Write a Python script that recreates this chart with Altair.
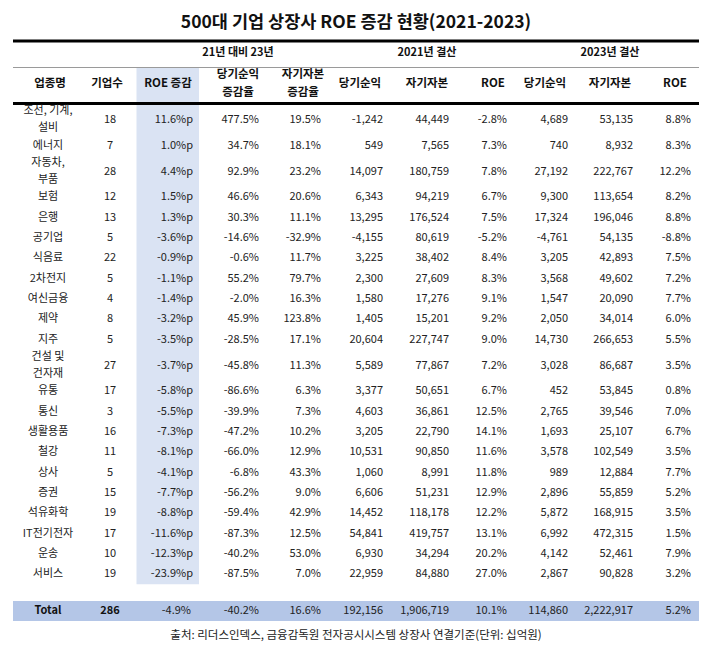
import altair as alt
import pandas as pd

# ---------------- data ----------------
title_text = "500대 기업 상장사 ROE 증감 현황(2021-2023)"
source_text = "출처: 리더스인덱스, 금융감독원 전자공시시스템 상장사 연결기준(단위: 십억원)"

group_headers = ["21년 대비 23년", "2021년 결산", "2023년 결산"]
column_headers = ["업종명", "기업수", "ROE 증감", "당기순익\n증감율", "자기자본\n증감율",
                  "당기순익", "자기자본", "ROE", "당기순익", "자기자본", "ROE"]

industries = ["조선, 기계,\n설비", "에너지", "자동차,\n부품", "보험", "은행", "공기업", "식음료",
              "2차전지", "여신금융", "제약", "지주", "건설 및\n건자재", "유통", "통신", "생활용품",
              "철강", "상사", "증권", "석유화학", "IT전기전자", "운송", "서비스"]
firm_counts = [18, 7, 28, 12, 13, 5, 22, 5, 4, 8, 5, 27, 17, 3, 16, 11, 5, 15, 19, 17, 10, 19]
roe_change = [11.6, 1.0, 4.4, 1.5, 1.3, -3.6, -0.9, -1.1, -1.4, -3.2, -3.5, -3.7, -5.8, -5.5,
              -7.3, -8.1, -4.1, -7.7, -8.8, -11.6, -12.3, -23.9]
ni_growth = [477.5, 34.7, 92.9, 46.6, 30.3, -14.6, -0.6, 55.2, -2.0, 45.9, -28.5, -45.8, -86.6,
             -39.9, -47.2, -66.0, -6.8, -56.2, -59.4, -87.3, -40.2, -87.5]
eq_growth = [19.5, 18.1, 23.2, 20.6, 11.1, -32.9, 11.7, 79.7, 16.3, 123.8, 17.1, 11.3, 6.3, 7.3,
             10.2, 12.9, 43.3, 9.0, 42.9, 12.5, 53.0, 7.0]
ni_2021 = [-1242, 549, 14097, 6343, 13295, -4155, 3225, 2300, 1580, 1405, 20604, 5589, 3377,
           4603, 3205, 10531, 1060, 6606, 14452, 54841, 6930, 22959]
eq_2021 = [44449, 7565, 180759, 94219, 176524, 80619, 38402, 27609, 17276, 15201, 227747, 77867,
           50651, 36861, 22790, 90850, 8991, 51231, 118178, 419757, 34294, 84880]
roe_2021 = [-2.8, 7.3, 7.8, 6.7, 7.5, -5.2, 8.4, 8.3, 9.1, 9.2, 9.0, 7.2, 6.7, 12.5, 14.1, 11.6,
            11.8, 12.9, 12.2, 13.1, 20.2, 27.0]
ni_2023 = [4689, 740, 27192, 9300, 17324, -4761, 3205, 3568, 1547, 2050, 14730, 3028, 452, 2765,
           1693, 3578, 989, 2896, 5872, 6992, 4142, 2867]
eq_2023 = [53135, 8932, 222767, 113654, 196046, 54135, 42893, 49602, 20090, 34014, 266653, 86687,
           53845, 39546, 25107, 102549, 12884, 55859, 168915, 472315, 52461, 90828]
roe_2023 = [8.8, 8.3, 12.2, 8.2, 8.8, -8.8, 7.5, 7.2, 7.7, 6.0, 5.5, 3.5, 0.8, 7.0, 6.7, 3.5, 7.7,
            5.2, 3.5, 1.5, 7.9, 3.2]

total_label = "Total"
total_count = 286
total_values = [-4.9, -40.2, 16.6, 192156, 1906719, 10.1, 114860, 2222917, 5.2]

# ---------------- layout (not data) ----------------
FONT = "Noto Sans CJK KR"
LEFT, RIGHT = 13, 699
CENTER = (LEFT + RIGHT) / 2
NAME_X, COUNT_X = 48, 110
VALUE_RIGHT = [193, 259, 321, 383, 449, 507, 568, 633, 691]
TOTAL_RIGHT = [191, 259, 321, 383, 449, 507, 568, 633, 691]
HEADER_X = [50, 107, 168, 238, 303, 360, 427, 493, 545, 610, 675]
GROUP_X = [238, 427, 610]
TITLE_Y, GROUP_Y, HEADER_Y, SOURCE_Y = 23, 53, 83.5, 636
LINE_TOP, LINE_MID, LINE_HEAD = 41, 67.5, 103.5
ROW_START, ROW_H1, ROW_H2 = 103.8, 20.3, 31.6
NAME_LH, HEAD_LH = 17, 18
HILITE_X = (136.5, 199)
TOTAL_BAND = (601, 621)
TOTAL_Y = 611

# ---------------- build tables ----------------
def pct(v, suffix="%"):
    return f"{v:.1f}{suffix}"

def num(v):
    return f"{v:,}"

def first_line_y(center, label, lh):
    # Vega places the first line of a multi-line text at y; shift so the block is centred
    n = label.count("\n") + 1
    return center - (n - 1) * lh / 2

row_y = []
top = ROW_START
for name in industries:
    h = ROW_H2 if "\n" in name else ROW_H1
    row_y.append(top + h / 2)
    top += h
rows_bottom = top

series = [
    [pct(v, "%p") for v in roe_change],
    [pct(v) for v in ni_growth],
    [pct(v) for v in eq_growth],
    [num(v) for v in ni_2021],
    [num(v) for v in eq_2021],
    [pct(v) for v in roe_2021],
    [num(v) for v in ni_2023],
    [num(v) for v in eq_2023],
    [pct(v) for v in roe_2023],
]

center_cells = []
for i, name in enumerate(industries):
    center_cells.append({"x": NAME_X, "y": first_line_y(row_y[i], name, NAME_LH), "t": name})
    center_cells.append({"x": COUNT_X, "y": row_y[i], "t": str(firm_counts[i])})
right_cells = []
for c, col in enumerate(series):
    for i, s in enumerate(col):
        right_cells.append({"x": VALUE_RIGHT[c], "y": row_y[i], "t": s})

total_fmt = [pct(total_values[0]), pct(total_values[1]), pct(total_values[2]),
             num(total_values[3]), num(total_values[4]), pct(total_values[5]),
             num(total_values[6]), num(total_values[7]), pct(total_values[8])]
total_bold = pd.DataFrame([{"x": NAME_X, "y": TOTAL_Y, "t": total_label},
                           {"x": COUNT_X, "y": TOTAL_Y, "t": str(total_count)}])
total_right = pd.DataFrame([{"x": TOTAL_RIGHT[c], "y": TOTAL_Y, "t": s}
                            for c, s in enumerate(total_fmt)])

headers_df = pd.DataFrame([{"x": HEADER_X[i], "y": first_line_y(HEADER_Y, h, HEAD_LH), "t": h}
                           for i, h in enumerate(column_headers)])
groups_df = pd.DataFrame([{"x": GROUP_X[i], "y": GROUP_Y, "t": g}
                          for i, g in enumerate(group_headers)])
title_df = pd.DataFrame([{"x": CENTER, "y": TITLE_Y, "t": title_text}])
source_df = pd.DataFrame([{"x": CENTER, "y": SOURCE_Y, "t": source_text}])

thick_df = pd.DataFrame([{"x": LEFT, "x2": RIGHT, "y": LINE_TOP},
                         {"x": LEFT, "x2": RIGHT, "y": LINE_HEAD}])
thin_df = pd.DataFrame([{"x": LEFT, "x2": RIGHT, "y": LINE_MID}])
hilite_df = pd.DataFrame([{"x": HILITE_X[0], "x2": HILITE_X[1], "y": LINE_MID, "y2": rows_bottom}])
band_df = pd.DataFrame([{"x": LEFT, "x2": RIGHT, "y": TOTAL_BAND[0], "y2": TOTAL_BAND[1]}])

# ---------------- chart ----------------
W, H = 704, 636
xs = alt.Scale(domain=[8, 8 + W], nice=False, zero=False)
ys = alt.Scale(domain=[8, 8 + H], nice=False, zero=False, reverse=True)
X = alt.X("x:Q", scale=xs, axis=None)
Y = alt.Y("y:Q", scale=ys, axis=None)


def text_layer(df, align="center", size=11, weight="normal", color="#222", lh=17):
    return alt.Chart(df).mark_text(
        align=align, baseline="middle", font=FONT, fontSize=size, fontWeight=weight,
        color=color, lineBreak="\n", lineHeight=lh
    ).encode(x=X, y=Y, text="t:N")


hilite = alt.Chart(hilite_df).mark_rect(color="#dae3f3").encode(x=X, x2="x2:Q", y=Y, y2="y2:Q")
band = alt.Chart(band_df).mark_rect(color="#b4c6e7").encode(x=X, x2="x2:Q", y=Y, y2="y2:Q")
thick = alt.Chart(thick_df).mark_rule(color="#000", strokeWidth=3).encode(x=X, x2="x2:Q", y=Y)
thin = alt.Chart(thin_df).mark_rule(color="#9a9a9a", strokeWidth=1).encode(x=X, x2="x2:Q", y=Y)

chart = alt.layer(
    hilite, band, thick, thin,
    text_layer(title_df, size=17.5, weight="bold", color="#111"),
    text_layer(groups_df, size=11, weight="bold", color="#111"),
    text_layer(headers_df, size=11.5, weight="bold", color="#111", lh=HEAD_LH),
    text_layer(pd.DataFrame(center_cells), size=11, lh=NAME_LH),
    text_layer(pd.DataFrame(right_cells), align="right", size=11),
    text_layer(total_bold, size=11, weight="bold", color="#111"),
    text_layer(total_right, align="right", size=11),
    text_layer(source_df, size=11.5),
).properties(
    width=W, height=H, padding=0, autosize=alt.AutoSizeParams(type="none")
).configure_view(stroke=None)

chart.save("out.html", embed_options={"renderer": "svg", "actions": False})
